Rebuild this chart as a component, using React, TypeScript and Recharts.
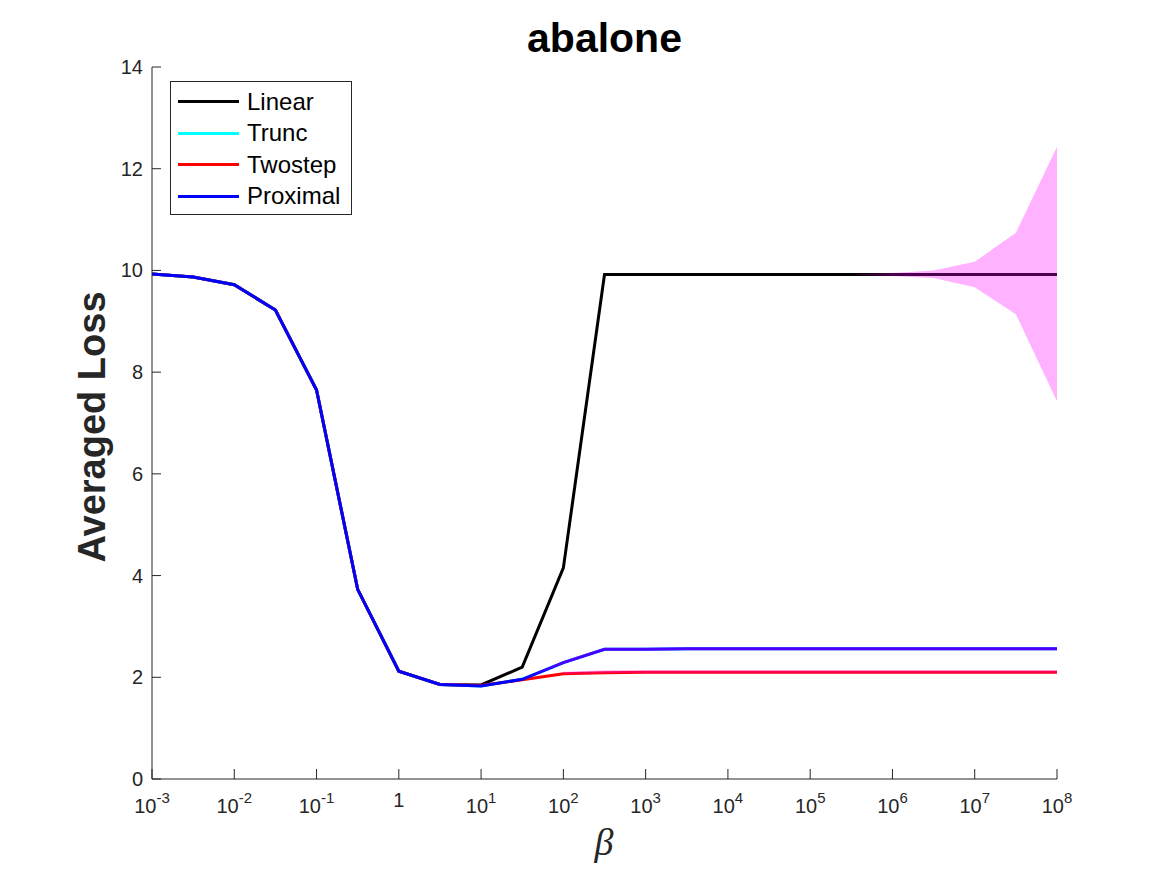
import React from "react";
import { ComposedChart, Line, Area, XAxis, YAxis, Legend } from "recharts";

// beta grid, half-decade steps from 1e-3 to 1e8
const beta = [
  1e-3, 3.162e-3, 1e-2, 3.162e-2, 0.1, 0.3162, 1, 3.162, 10, 31.62, 100, 316.2,
  1e3, 3162, 1e4, 31620, 1e5, 316200, 1e6, 3162000, 1e7, 31620000, 1e8,
];

const linear = [
  9.93, 9.87, 9.72, 9.22, 7.65, 3.73, 2.12, 1.86, 1.85, 2.2, 4.15, 9.92,
  9.92, 9.92, 9.92, 9.92, 9.92, 9.92, 9.92, 9.92, 9.92, 9.92, 9.92,
];
const trunc = [
  9.93, 9.87, 9.72, 9.22, 7.65, 3.73, 2.12, 1.86, 1.83, 1.96, 2.29, 2.55,
  2.55, 2.56, 2.56, 2.56, 2.56, 2.56, 2.56, 2.56, 2.56, 2.56, 2.56,
];
const twostep = [
  9.93, 9.87, 9.72, 9.22, 7.65, 3.73, 2.12, 1.86, 1.84, 1.95, 2.07, 2.09,
  2.1, 2.1, 2.1, 2.1, 2.1, 2.1, 2.1, 2.1, 2.1, 2.1, 2.1,
];
const proximal = [
  9.93, 9.87, 9.72, 9.22, 7.65, 3.73, 2.12, 1.86, 1.83, 1.96, 2.29, 2.55,
  2.55, 2.56, 2.56, 2.56, 2.56, 2.56, 2.56, 2.56, 2.56, 2.56, 2.56,
];

// spread bands (null = no band drawn)
const linearLo = [
  null, null, null, null, null, null, null, null, null, null, null, null,
  null, null, null, null, null, 9.92, 9.89, 9.85, 9.67, 9.14, 7.43,
];
const linearHi = [
  null, null, null, null, null, null, null, null, null, null, null, null,
  null, null, null, null, null, 9.92, 9.95, 10.0, 10.17, 10.74, 12.43,
];
const proximalLo = [
  null, null, null, null, null, null, null, null, null, 1.96, 2.26, 2.52,
  2.52, 2.53, 2.53, 2.53, 2.53, 2.53, 2.53, 2.53, 2.53, 2.53, 2.53,
];
const proximalHi = [
  null, null, null, null, null, null, null, null, null, 1.96, 2.32, 2.58,
  2.58, 2.59, 2.59, 2.59, 2.59, 2.59, 2.59, 2.59, 2.59, 2.59, 2.59,
];
const twostepLo = [
  null, null, null, null, null, null, null, null, null, null, 2.06, 2.08,
  2.08, 2.08, 2.08, 2.08, 2.08, 2.08, 2.08, 2.08, 2.08, 2.08, 2.08,
];
const twostepHi = [
  null, null, null, null, null, null, null, null, null, null, 2.11, 2.14,
  2.14, 2.14, 2.14, 2.14, 2.14, 2.14, 2.14, 2.14, 2.14, 2.14, 2.14,
];

const xTicks = [1e-3, 1e-2, 1e-1, 1, 10, 100, 1e3, 1e4, 1e5, 1e6, 1e7, 1e8];
const yTicks = [0, 2, 4, 6, 8, 10, 12, 14];

const series = [
  { key: "linear", name: "Linear", color: "#000000" },
  { key: "trunc", name: "Trunc", color: "#00ffff" },
  { key: "twostep", name: "Twostep", color: "#ff0000" },
  { key: "proximal", name: "Proximal", color: "#0000ff" },
];

const band = (lo: (number | null)[], hi: (number | null)[], i: number) =>
  lo[i] == null || hi[i] == null ? null : [lo[i], hi[i]];

const data = beta.map((b, i) => ({
  beta: b,
  linear: linear[i],
  trunc: trunc[i],
  twostep: twostep[i],
  proximal: proximal[i],
  linearBand: band(linearLo, linearHi, i),
  twostepBand: band(twostepLo, twostepHi, i),
  proximalBand: band(proximalLo, proximalHi, i),
}));

const FONT = '"Liberation Sans", Arial, Helvetica, sans-serif';
const AXIS = "#262626";

// plot box edges inside the svg
const W = 1167;
const H = 875;
const MARGIN = { top: 67, right: 110, bottom: 36, left: 92 };
const Y_AXIS_W = 60;
const X_AXIS_H = 60;
const PLOT_LEFT = MARGIN.left + Y_AXIS_W;
const PLOT_BOTTOM = H - MARGIN.bottom - X_AXIS_H;

// ticks point inwards, MATLAB style
const XTick = (props: any) => {
  const { x, payload } = props;
  const y = PLOT_BOTTOM;
  const exp = Math.round(Math.log10(payload.value));
  return (
    <g>
      <line x1={x} x2={x} y1={y} y2={y - 10} stroke={AXIS} strokeWidth={1} />
      {exp === 0 ? (
        <text x={x} y={y + 28} textAnchor="middle" fontFamily={FONT} fontSize={20} fill={AXIS}>
          1
        </text>
      ) : (
        <text x={x} y={y + 34} textAnchor="middle" fontFamily={FONT} fontSize={20} fill={AXIS}>
          <tspan>10</tspan>
          <tspan dy={-10} fontSize={15}>
            {exp}
          </tspan>
        </text>
      )}
    </g>
  );
};

const YTick = (props: any) => {
  const { y, payload } = props;
  const x = PLOT_LEFT;
  return (
    <g>
      <line x1={x} x2={x + 9} y1={y} y2={y} stroke={AXIS} strokeWidth={1} />
      <text x={x - 9} y={y} dy="0.35em" textAnchor="end" fontFamily={FONT} fontSize={20} fill={AXIS}>
        {payload.value}
      </text>
    </g>
  );
};

const LegendBox = () => (
  <div
    style={{
      boxSizing: "border-box",
      width: 182,
      height: 134,
      border: `1px solid ${AXIS}`,
      background: "#ffffff",
      padding: "4px 0 0 7px",
      fontFamily: FONT,
      fontSize: 24,
      color: "#000000",
    }}
  >
    {series.map((s) => (
      <div key={s.key} style={{ display: "flex", alignItems: "center", height: 31.5 }}>
        <div style={{ width: 61, height: 3, background: s.color, marginRight: 8 }} />
        <span>{s.name}</span>
      </div>
    ))}
  </div>
);

export default function App() {
  return (
    <div style={{ position: "absolute", left: 0, top: 0, width: W, height: H, background: "#fff" }}>
      <ComposedChart width={W} height={H} data={data} margin={MARGIN}>
        <XAxis
          dataKey="beta"
          type="number"
          scale="log"
          domain={[1e-3, 1e8]}
          allowDataOverflow
          ticks={xTicks}
          tick={<XTick />}
          tickLine={false}
          tickSize={0}
          tickMargin={0}
          height={X_AXIS_H}
          axisLine={{ stroke: AXIS, strokeWidth: 1 }}
          interval={0}
        />
        <YAxis
          type="number"
          domain={[0, 14]}
          ticks={yTicks}
          tick={<YTick />}
          tickLine={false}
          tickSize={0}
          tickMargin={0}
          width={Y_AXIS_W}
          axisLine={{ stroke: AXIS, strokeWidth: 1 }}
          interval={0}
        />
        {series.map((s) => (
          <Line
            key={s.key}
            dataKey={s.key}
            name={s.name}
            type="linear"
            stroke={s.color}
            strokeWidth={3}
            dot={false}
            activeDot={false}
            isAnimationActive={false}
          />
        ))}
        {["linearBand", "twostepBand", "proximalBand"].map((k) => (
          <Area
            key={k}
            dataKey={k}
            type="linear"
            stroke="none"
            fill="#ff00ff"
            fillOpacity={0.3}
            dot={false}
            activeDot={false}
            legendType="none"
            isAnimationActive={false}
            {...({ zIndex: 450 } as any)}
          />
        ))}
        <Legend
          layout="vertical"
          align="center"
          verticalAlign="middle"
          content={<LegendBox />}
          wrapperStyle={{ left: 170, top: 81, width: 182, height: 134 }}
        />
      </ComposedChart>
      <svg width={W} height={H} style={{ position: "absolute", left: 0, top: 0, pointerEvents: "none" }}>
        <text x={604.5} y={52} textAnchor="middle" fontFamily={FONT} fontWeight="bold" fontSize={41} fill="#000">
          abalone
        </text>
        <text
          transform="translate(105 427) rotate(-90)"
          textAnchor="middle"
          fontFamily={FONT}
          fontWeight="bold"
          fontSize={38}
          fill={AXIS}
        >
          Averaged Loss
        </text>
        <text
          x={604}
          y={855}
          textAnchor="middle"
          fontFamily='"Liberation Serif", "DejaVu Serif", serif'
          fontStyle="italic"
          fontSize={38}
          fill={AXIS}
        >
          β
        </text>
      </svg>
    </div>
  );
}
